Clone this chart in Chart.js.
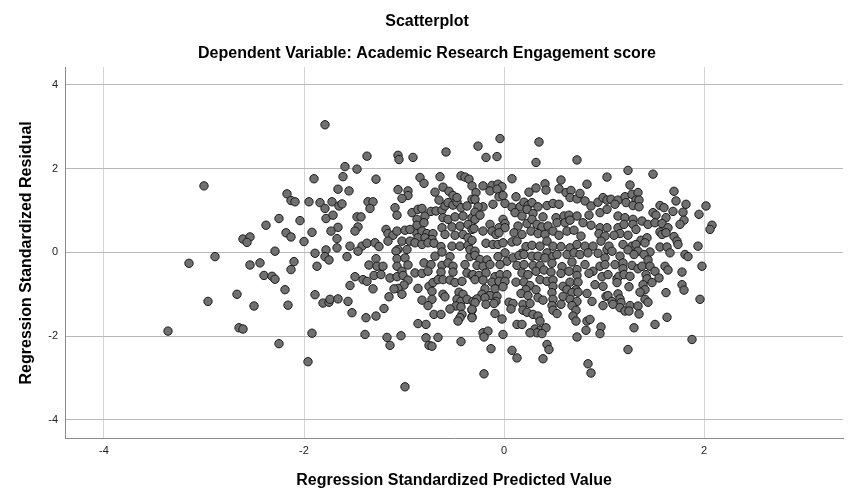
<!DOCTYPE html>
<html>
<head>
<meta charset="utf-8">
<title>Scatterplot</title>
<script src="https://cdn.jsdelivr.net/npm/chart.js@4.4.1/dist/chart.umd.min.js"></script>
<style>
  html, body { margin: 0; padding: 0; background: #fff; }
  #wrap { width: 854px; height: 504px; }
</style>
</head>
<body>
<div id="wrap"><canvas id="scatter" width="854" height="504"></canvas></div>
<script>
// values, grouped by the region they sit in
const predLeft = [
  -1.79,-3.00,-1.90,-1.66,-2.17,-2.13,-2.09,-1.95,-1.84,-1.72,
  -1.79,-1.65,-2.25,-2.04,-1.78,-1.71,-2.38,-1.66,-2.18,-2.13,
  -1.92,-1.73,-2.61,-2.54,-2.57,-2.00,-1.67,-2.29,-1.89,-1.78,
  -1.67,-1.79,-1.75,-3.15,-2.89,-2.54,-2.44,-2.10,-2.13,-1.87,
  -2.40,-2.32,-2.29,-2.19,-2.67,-2.96,-2.50,-2.16,-1.89,-1.81,
  -1.75,-1.74,-1.66,-3.36,-2.65,-2.61,-2.25,-1.92,-1.96
];
const residLeft = [
  3.05,1.59,1.76,1.51,1.40,1.24,1.21,1.21,1.19,1.21,
  1.05,1.11,0.81,0.76,0.81,0.89,0.65,0.60,0.47,0.37,
  0.48,0.51,0.32,0.37,0.24,0.26,0.33,0.03,-0.02,0.06,
  0.11,-0.10,-0.18,-0.26,-0.10,-0.30,-0.25,-0.22,-0.41,-0.33,
  -0.55,-0.57,-0.64,-0.89,-1.00,-1.17,-1.28,-1.26,-1.01,-1.21,
  -1.19,-1.12,-1.11,-1.88,-1.80,-1.83,-2.18,-1.93,-2.61
];

const predMidUpper = [
  -1.37,-1.06,-1.05,-0.91,-0.58,-1.59,-1.47,-1.61,-1.28,-0.84,
  -0.80,-0.64,-0.43,-0.39,-0.35,-1.55,-1.06,-0.96,-0.96,-1.02,
  -0.69,-0.61,-0.55,-0.51,-0.32,-1.36,-1.31,-1.34,-1.62,-1.09,
  -1.07,-0.92,-0.86,-0.82,-0.79,-0.73,-0.68,-0.62,-0.59,-0.65,
  -0.56,-0.51,-0.47,-0.43,-0.37,-0.32,-0.47,-1.47,-1.43,-1.46,
  -1.49,-0.87,-0.87,-0.80,-0.61,-0.56,-0.49,-0.41,-0.32,-0.62,
  -0.52,-0.44,-0.36,-0.32,-1.18,-1.16,-1.11,-1.07,-0.99,-0.94,
  -0.87,-0.82,-0.77,-0.71,-0.86,-0.79,-0.72,-0.59,-0.49,-0.41,
  -0.36,-1.54,-1.42,-1.37,-1.29,-1.25,-1.16,-1.06,-1.02,-0.94,
  -0.89,-0.82,-0.76,-0.70,-0.63,-0.52,-0.44,-0.36,-1.46,-0.97
];
const residMidUpper = [
  2.30,2.32,2.22,2.27,2.40,2.05,1.99,1.81,1.75,1.79,
  1.65,1.81,1.83,1.80,1.75,1.47,1.50,1.47,1.36,1.29,
  1.44,1.56,1.46,1.36,1.59,1.21,1.21,1.05,1.16,1.07,
  0.89,0.95,1.03,1.05,0.87,0.98,0.99,1.01,1.11,1.25,
  1.19,1.13,1.20,1.07,1.11,1.27,1.31,0.85,0.85,0.61,
  0.51,0.79,0.65,0.71,0.83,0.79,0.85,0.87,0.83,0.59,
  0.61,0.63,0.67,0.55,0.55,0.45,0.41,0.51,0.53,0.55,
  0.45,0.51,0.45,0.45,0.35,0.35,0.31,0.43,0.41,0.43,
  0.35,0.15,0.15,0.22,0.23,0.14,0.27,0.07,0.27,0.27,
  0.23,0.19,0.23,0.22,0.14,0.15,0.15,0.17,0.03,0.07
];

const predMidLower = [
  -1.57,-1.28,-1.35,-1.27,-1.21,-1.08,-1.07,-0.99,-0.96,-1.07,
  -1.02,-0.89,-0.82,-0.80,-0.73,-0.76,-0.69,-0.62,-0.54,-0.62,
  -0.56,-0.51,-0.63,-0.51,-0.39,-0.34,-0.37,-0.32,-1.49,-1.41,
  -1.37,-1.30,-1.23,-1.14,-1.07,-1.01,-0.96,-1.00,-1.06,-1.10,
  -1.02,-1.15,-1.31,-1.54,-1.56,-1.52,-1.38,-1.28,-1.20,-0.86,
  -0.75,-0.71,-0.66,-0.61,-0.54,-0.49,-0.42,-0.72,-0.61,-0.59,
  -0.45,-0.41,-0.47,-0.43,-0.37,-0.31,-0.82,-0.72,-0.76,-0.48,
  -0.43,-0.54,-0.42,-0.44,-0.46,-0.32,-0.32,-0.70,-0.63,-0.86,
  -0.78,-1.39,-1.17,-1.14,-1.03,-0.78,-0.75,-0.72,-0.66,-0.43,
  -0.99
];
const residMidLower = [
  -0.10,-0.15,-0.30,-0.33,-0.33,0.03,-0.15,-0.13,-0.30,-0.33,
  -0.45,-0.49,-0.50,-0.25,-0.29,-0.45,-0.09,0.01,-0.10,-0.31,
  -0.25,-0.33,-0.47,-0.47,-0.29,-0.10,-0.49,-0.55,-0.58,-0.65,
  -0.69,-0.55,-0.53,-0.61,-0.58,-0.55,-0.66,-0.78,-0.86,-0.87,
  -1.00,-1.06,-0.87,-0.79,-1.17,-1.44,-1.56,-1.52,-1.34,-0.86,
  -0.81,-0.72,-0.65,-0.65,-0.66,-0.72,-0.69,-0.93,-1.00,-1.06,
  -0.95,-1.00,-1.12,-1.17,-1.12,-1.17,-1.14,-1.12,-1.27,-1.28,
  -1.30,-1.35,-1.48,-1.56,-1.64,-1.54,-1.38,-1.48,-1.48,-1.70,
  -1.72,-1.96,-2.03,-2.22,-1.99,-2.04,-2.22,-2.24,-2.03,-2.13,
  -3.21
];

const predCenterUpper = [
  -0.26,-0.04,0.35,-0.18,-0.07,0.32,0.73,1.03,0.08,0.41,
  0.57,0.83,-0.21,-0.12,-0.06,-0.02,-0.14,-0.07,-0.05,-0.01,
  -0.28,-0.29,0.12,0.25,0.32,0.42,0.55,0.62,0.67,0.66,
  0.73,0.76,0.81,0.87,0.94,0.99,1.03,-0.11,-0.21,-0.26,
  0.01,0.08,0.16,0.20,0.24,0.28,0.23,0.34,0.43,0.49,
  0.55,0.11,0.18,0.29,0.39,0.52,0.60,0.65,0.73,0.85,
  0.96,1.03,-0.29,-0.29,-0.24,-0.14,-0.01,0.01,-0.05,0.01,
  -0.30,-0.21,-0.12,-0.08,-0.05,0.14,0.23,0.28,0.33,0.38,
  0.44,0.53,0.61,0.66,0.79,0.87,0.96,1.03,0.10,0.18,
  0.27,0.34,0.41,0.49,0.55,0.63,0.70,0.77,0.95,1.01,
  -0.32,-0.18,-0.11,-0.06,-0.01,0.08,0.13,0.22,0.28,0.43,
  0.36,0.49,0.57,0.66,0.73,0.81,0.89,0.97,1.03,-0.34,
  -0.29,0.01,0.18,0.43
];
const residCenterUpper = [
  2.54,2.72,2.64,2.27,2.29,2.15,2.21,1.80,1.76,1.64,
  1.73,1.63,1.59,1.60,1.63,1.57,1.47,1.51,1.33,1.36,
  1.43,1.27,1.33,1.44,1.54,1.49,1.52,1.43,1.48,1.31,
  1.28,1.41,1.23,1.11,1.20,1.31,1.25,1.15,1.09,1.09,
  1.17,1.08,1.09,1.20,1.12,1.19,1.03,1.09,1.12,1.17,
  1.15,0.95,0.87,0.93,0.85,0.83,0.87,0.89,0.87,0.89,
  0.95,1.03,0.96,0.79,0.89,0.67,0.79,0.69,0.59,0.59,
  0.57,0.51,0.51,0.43,0.47,0.63,0.69,0.79,0.67,0.61,
  0.63,0.71,0.71,0.77,0.71,0.65,0.59,0.59,0.47,0.43,
  0.51,0.45,0.43,0.51,0.41,0.51,0.53,0.39,0.45,0.39,
  0.29,0.22,0.19,0.19,0.23,0.25,0.27,0.14,0.17,0.27,
  0.15,0.15,0.14,0.11,0.19,0.15,0.15,0.27,0.07,0.07,
  0.03,-0.01,-0.02,-0.01
];

const predCenterLower = [
  -0.29,-0.24,-0.17,-0.06,0.03,0.09,0.15,0.20,0.28,0.34,
  0.41,0.49,0.53,0.63,0.70,0.76,0.84,0.94,1.01,-0.27,
  -0.21,-0.14,-0.04,0.13,0.20,0.29,0.36,0.48,0.58,0.68,
  0.73,0.81,0.89,0.96,1.01,-0.31,-0.25,-0.18,-0.09,-0.04,
  0.03,0.18,0.24,0.32,0.40,0.47,0.57,0.65,0.73,0.85,
  0.98,-0.29,-0.21,-0.12,-0.05,0.01,0.12,0.20,0.26,0.36,
  0.43,0.49,0.59,0.66,0.74,0.91,0.99,-0.19,-0.09,-0.01,
  0.22,0.32,0.49,0.63,0.72,-0.22,-0.14,-0.07,0.17,0.24,
  0.48,0.68,0.74,0.83,-0.27,-0.19,-0.08,0.34,0.39,0.49,
  0.59,0.66,0.73,0.88,1.02,-0.29,-0.18,-0.10,0.05,0.09,
  0.19,0.26,0.48,0.57,0.68,0.99,-0.32,0.07,0.19,0.23,
  0.49,0.53,0.72,-0.32,-0.09,-0.02,0.29,0.34,0.36,0.69,
  0.72,0.83,0.86,0.13,0.18,0.31,0.36,0.42,0.33,0.38,
  0.26,-0.21,-0.16,-0.20,-0.01,0.73,0.82,0.97,0.96,-0.13,
  0.08,0.13,0.43,0.45,0.39,0.84,0.87,-0.20
];
const residCenterLower = [
  -0.07,-0.17,-0.18,-0.10,-0.21,-0.13,-0.07,-0.05,-0.09,-0.09,
  -0.13,-0.09,-0.05,-0.05,-0.01,-0.05,-0.01,-0.02,-0.13,-0.31,
  -0.33,-0.29,-0.29,-0.31,-0.29,-0.31,-0.31,-0.26,-0.34,-0.23,
  -0.41,-0.29,-0.45,-0.33,-0.29,-0.53,-0.55,-0.49,-0.58,-0.53,
  -0.53,-0.49,-0.53,-0.45,-0.42,-0.47,-0.50,-0.45,-0.55,-0.50,
  -0.58,-0.65,-0.66,-0.71,-0.69,-0.69,-0.71,-0.71,-0.79,-0.65,
  -0.69,-0.66,-0.81,-0.71,-0.71,-0.77,-0.81,-0.87,-0.87,-0.82,
  -0.89,-0.89,-0.81,-0.89,-0.89,-1.00,-1.03,-1.05,-0.98,-1.03,
  -0.96,-0.96,-0.95,-0.98,-1.11,-1.08,-1.17,-1.08,-1.14,-1.12,
  -1.05,-1.12,-1.17,-1.17,-1.05,-1.20,-1.24,-1.22,-1.19,-1.22,
  -1.24,-1.22,-1.27,-1.24,-1.27,-1.27,-1.36,-1.35,-1.38,-1.43,
  -1.38,-1.46,-1.38,-1.56,-1.46,-1.59,-1.48,-1.52,-1.64,-1.52,
  -1.64,-1.64,-1.60,-1.72,-1.72,-1.83,-1.86,-1.80,-1.92,-1.94,
  -1.92,-1.92,-1.88,-2.02,-1.96,-2.02,-1.86,-1.78,-1.94,-2.30,
  -2.34,-2.52,-2.20,-2.32,-2.54,-2.66,-2.88,-2.90
];

const predRightUpper = [
  1.24,1.49,1.26,1.70,1.07,1.14,1.21,1.28,1.34,1.32,
  1.35,1.22,1.29,1.35,1.11,1.56,1.60,1.72,1.82,2.02,
  1.69,1.79,1.95,1.14,1.21,1.29,1.38,1.49,1.52,1.62,
  1.44,1.51,1.58,1.80,1.76,2.08,2.06,1.14,1.20,1.29,
  1.32,1.16,1.10,1.24,1.64,1.56,1.58,1.62,1.70,1.73,
  1.74,1.37,1.43,1.41,1.19,1.05,1.28,1.32,1.56,1.63,
  1.94,1.08,1.24,1.34,1.46,1.66,1.81
];
const residRightUpper = [
  1.96,1.87,1.61,1.46,1.27,1.25,1.33,1.39,1.43,1.25,
  1.25,1.19,1.12,1.09,1.15,1.12,1.07,1.23,1.15,1.11,
  0.98,0.96,0.91,0.87,0.83,0.79,0.75,0.95,0.89,0.83,
  0.67,0.71,0.69,0.77,0.67,0.65,0.55,0.59,0.67,0.67,
  0.55,0.45,0.41,0.41,0.59,0.49,0.43,0.47,0.38,0.27,
  0.19,0.29,0.35,0.23,0.19,0.15,0.15,0.19,0.13,0.13,
  0.15,0.03,0.06,0.03,0.01,-0.01,-0.05
];

const predRightLower = [
  1.16,1.30,1.40,1.84,1.98,1.11,1.19,1.19,1.28,1.34,
  1.38,1.44,1.46,1.51,1.61,1.64,1.78,1.04,1.13,1.15,
  1.13,1.20,1.26,1.42,1.43,1.55,1.48,1.39,1.41,1.36,
  1.25,1.78,1.80,1.62,1.04,1.14,1.08,1.16,1.17,1.09,
  1.16,1.21,1.26,1.25,1.34,1.35,1.41,1.44,1.96,1.63,
  1.51,1.30,1.88,1.24
];
const residRightLower = [
  -0.09,-0.05,-0.05,-0.10,-0.33,-0.29,-0.25,-0.39,-0.31,-0.39,
  -0.33,-0.18,-0.33,-0.45,-0.33,-0.42,-0.47,-0.53,-0.63,-0.57,
  -0.72,-0.53,-0.57,-0.53,-0.63,-0.61,-0.72,-0.77,-0.89,-0.95,
  -0.82,-0.77,-0.90,-0.96,-1.03,-0.99,-1.17,-1.11,-1.20,-1.24,
  -1.32,-1.40,-1.27,-1.40,-1.28,-1.47,-1.12,-1.19,-1.12,-1.55,
  -1.72,-1.80,-2.08,-2.32
];

const xTicks = [-4, -2, 0, 2];
const yTicks = [-4, -2, 0, 2, 4];
const titleLines = ['Scatterplot', 'Dependent Variable: Academic Research Engagement score'];

const predicted = [].concat(predLeft, predMidUpper, predMidLower,
  predCenterUpper, predCenterLower, predRightUpper, predRightLower);
const residual = [].concat(residLeft, residMidUpper, residMidLower,
  residCenterUpper, residCenterLower, residRightUpper, residRightLower);

const points = predicted.map((x, i) => ({x: x, y: residual[i]}));

const FONT = "Arial, 'Liberation Sans', sans-serif";
Chart.defaults.font.family = FONT;

// SPSS centres the two title lines on the whole picture, not the plot box
const pageTitles = {
  id: 'pageTitles',
  afterDraw(chart) {
    const c = chart.ctx;
    c.save();
    c.fillStyle = '#000';
    c.font = 'bold 16px ' + FONT;
    c.textAlign = 'center';
    c.textBaseline = 'middle';
    c.fillText(titleLines[0], chart.width / 2, 22);
    c.fillText(titleLines[1], chart.width / 2, 54);
    c.restore();
  }
};

new Chart(document.getElementById('scatter'), {
  type: 'scatter',
  data: {
    datasets: [{
      data: points,
      pointRadius: 4.2,
      pointHoverRadius: 4.2,
      pointBackgroundColor: '#707070',
      pointBorderColor: '#1c1c1c',
      pointBorderWidth: 1
    }]
  },
  options: {
    responsive: false,
    animation: false,
    layout: { padding: { left: 0, right: 11, top: 67, bottom: 0 } },
    plugins: {
      legend: { display: false },
      tooltip: { enabled: false }
    },
    scales: {
      x: {
        type: 'linear',
        min: -4.39,
        max: 3.39,
        afterBuildTicks: s => { s.ticks = xTicks.map(v => ({ value: v })); },
        afterFit: s => { s.height = 65.3; },
        grid: { color: '#d4d4d4', drawTicks: false },
        border: { color: '#8a8a8a' },
        ticks: { padding: 6, color: '#222', font: { size: 11 } },
        title: {
          display: true,
          text: 'Regression Standardized Predicted Value',
          color: '#000',
          font: { size: 16, weight: 'bold' },
          padding: { top: 0, bottom: 14 }
        }
      },
      y: {
        type: 'linear',
        min: -4.45,
        max: 4.43,
        afterBuildTicks: s => { s.ticks = yTicks.map(v => ({ value: v })); },
        afterFit: s => { s.width = 65; },
        grid: { color: '#b8b8b8', drawTicks: false },
        border: { color: '#8a8a8a' },
        ticks: { padding: 7, color: '#222', font: { size: 11 } },
        title: {
          display: true,
          text: 'Regression Standardized Residual',
          color: '#000',
          font: { size: 16, weight: 'bold' },
          padding: { top: 17.4, bottom: 0 }
        }
      }
    }
  },
  plugins: [pageTitles]
});
</script>
</body>
</html>
